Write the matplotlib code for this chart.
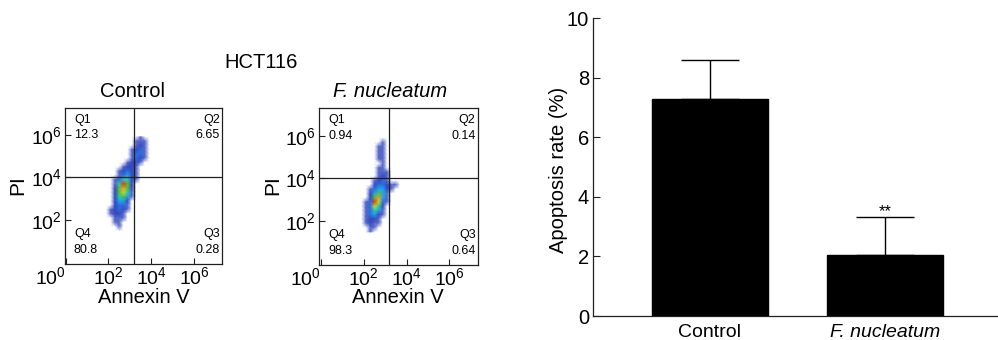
import numpy as np
import matplotlib
matplotlib.use("Agg")
import matplotlib.pyplot as plt
from matplotlib.colors import LinearSegmentedColormap, Normalize

plt.rcParams['font.family'] = ['Liberation Sans', 'DejaVu Sans']
plt.rcParams['mathtext.fontset'] = 'custom'
plt.rcParams['mathtext.rm'] = 'Liberation Sans'
plt.rcParams['mathtext.it'] = 'Liberation Sans:italic'

# ---------------- data ----------------
figure_title = "HCT116"
groups = ["Control", "F. nucleatum"]
apoptosis_mean = [7.28, 2.05]
apoptosis_err = [1.33, 1.27]
sig_marks = ["", "**"]

# quadrant gates (Annexin V, PI)
gate_annexin = 10 ** 3.2
gate_pi = 10 ** 4.0

quad_names = ["Q1", "Q2", "Q3", "Q4"]
quad_ctrl = ["12.3", "6.65", "0.28", "80.8"]
quad_fn = ["0.94", "0.14", "0.64", "98.3"]

# density grid nodes (log10 of fluorescence)
grid_x = [1.9, 2.1, 2.3, 2.5, 2.7, 2.9, 3.1, 3.3, 3.5, 3.7, 3.9]
grid_y = [5.9, 5.7, 5.5, 5.3, 5.1, 4.9, 4.7, 4.5, 4.3, 4.1, 3.9, 3.7,
          3.5, 3.3, 3.1, 2.9, 2.7, 2.5, 2.3, 2.1, 1.9, 1.7, 1.5]

density_ctrl = [
    [0, 0, 0, 0, 0, 0, 0, 0, 1, 0, 0],
    [0, 0, 0, 0, 0, 0, 0, 1, 1, 1, 0],
    [0, 0, 0, 0, 0, 0, 0, 1, 2, 1, 0],
    [0, 0, 0, 0, 0, 0, 1, 2, 3, 1, 0],
    [0, 0, 0, 0, 0, 0, 1, 3, 3, 1, 0],
    [0, 0, 0, 0, 0, 0, 1, 3, 2, 1, 0],
    [0, 0, 0, 0, 0, 1, 2, 2, 1, 0, 0],
    [0, 0, 0, 0, 1, 2, 2, 1, 0, 0, 0],
    [0, 0, 0, 1, 2, 3, 2, 1, 0, 0, 0],
    [0, 0, 0, 1, 3, 4, 2, 1, 0, 0, 0],
    [0, 0, 1, 3, 5, 5, 2, 1, 0, 0, 0],
    [0, 0, 1, 5, 9, 6, 2, 0, 0, 0, 0],
    [0, 0, 2, 6, 8, 6, 2, 0, 0, 0, 0],
    [0, 0, 2, 6, 7, 5, 1, 0, 0, 0, 0],
    [0, 0, 2, 5, 6, 4, 1, 0, 0, 0, 0],
    [0, 0, 2, 4, 4, 2, 0, 0, 0, 0, 0],
    [0, 0, 2, 3, 3, 1, 0, 0, 0, 0, 0],
    [0, 1, 2, 3, 2, 1, 0, 0, 0, 0, 0],
    [0, 1, 2, 2, 1, 0, 0, 0, 0, 0, 0],
    [0, 0, 1, 1, 1, 0, 0, 0, 0, 0, 0],
    [0, 0, 1, 1, 0, 0, 0, 0, 0, 0, 0],
    [0, 0, 0, 1, 0, 0, 0, 0, 0, 0, 0],
    [0, 0, 0, 0, 0, 0, 0, 0, 0, 0, 0],
]

density_fn = [
    [0, 0, 0, 0, 0, 0, 0, 0, 0, 0, 0],
    [0, 0, 0, 0, 0, 1, 0, 0, 0, 0, 0],
    [0, 0, 0, 0, 1, 1, 0, 0, 0, 0, 0],
    [0, 0, 0, 0, 1, 1, 0, 0, 0, 0, 0],
    [0, 0, 0, 0, 1, 1, 0, 0, 0, 0, 0],
    [0, 0, 0, 0, 1, 1, 0, 0, 0, 0, 0],
    [0, 0, 0, 0, 0, 1, 0, 0, 0, 0, 0],
    [0, 0, 0, 0, 1, 1, 0, 0, 0, 0, 0],
    [0, 0, 0, 0, 1, 1, 1, 0, 0, 0, 0],
    [0, 0, 0, 0, 1, 2, 1, 0, 0, 0, 0],
    [0, 0, 0, 1, 2, 3, 1, 0, 0, 0, 0],
    [0, 0, 0, 2, 3, 3, 2, 1, 1, 0, 0],
    [0, 0, 1, 3, 4, 4, 2, 1, 0, 0, 0],
    [0, 0, 2, 4, 6, 4, 1, 0, 0, 0, 0],
    [0, 0, 2, 6, 8, 4, 1, 0, 0, 0, 0],
    [0, 1, 3, 9, 7, 3, 1, 0, 0, 0, 0],
    [0, 1, 3, 7, 5, 2, 0, 0, 0, 0, 0],
    [0, 1, 3, 5, 4, 1, 0, 0, 0, 0, 0],
    [0, 1, 3, 4, 2, 1, 0, 0, 0, 0, 0],
    [0, 1, 2, 2, 1, 0, 0, 0, 0, 0, 0],
    [0, 1, 2, 1, 1, 0, 0, 0, 0, 0, 0],
    [0, 0, 1, 1, 0, 0, 0, 0, 0, 0, 0],
    [0, 0, 1, 0, 0, 0, 0, 0, 0, 0, 0],
]

x_ticks = [1, 1e2, 1e4, 1e6]
x_ticklabels = [r"$10^{0}$", r"$10^{2}$", r"$10^{4}$", r"$10^{6}$"]
y_ticks = [1e2, 1e4, 1e6]
y_ticklabels = [r"$10^{2}$", r"$10^{4}$", r"$10^{6}$"]

bar_yticks = [0, 2, 4, 6, 8, 10]

# ---------------- figure ----------------
W, H = 998, 340
fig = plt.figure(figsize=(W / 100, H / 100), dpi=100)

def fx(px):
    return px / W

def fy(py):
    return (H - py) / H

cmap = LinearSegmentedColormap.from_list(
    "flow",
    [(0.0, "#7080d0"), (0.06, "#5566c8"), (0.17, "#3346c0"), (0.28, "#2a6fe0"),
     (0.39, "#20a8e8"), (0.5, "#30c8b0"), (0.61, "#50c040"), (0.72, "#c8e020"),
     (0.83, "#f0a020"), (0.94, "#e83020"), (1.0, "#d02018")])
cmap.set_under("white")
norm = Normalize(vmin=0.5, vmax=9.5)

line_col = "#202020"

def flow_panel(rect, dens, quads, xlim, ylim):
    ax = fig.add_axes(rect)
    ax.set_xscale("log")
    ax.set_yscale("log")
    X = 10 ** np.array(grid_x)
    Y = 10 ** np.array(grid_y)
    ax.pcolormesh(X, Y, np.array(dens, dtype=float), shading="gouraud",
                  cmap=cmap, norm=norm, zorder=1, rasterized=True)
    ax.axvline(gate_annexin, color=line_col, lw=0.9, zorder=3)
    ax.axhline(gate_pi, color=line_col, lw=0.9, zorder=3)
    ax.set_xlim(*xlim)
    ax.set_ylim(*ylim)
    ax.set_xticks(x_ticks)
    ax.set_xticklabels(x_ticklabels)
    ax.set_yticks(y_ticks)
    ax.set_yticklabels(y_ticklabels)
    ax.minorticks_off()
    ax.tick_params(direction="in", length=4, width=0.8, labelsize=14,
                   colors=line_col, labelcolor="black")
    ax.tick_params(axis="x", pad=1.5)
    ax.tick_params(axis="y", pad=2)
    ax.get_xticklabels()[0].set_horizontalalignment("right")
    for s in ax.spines.values():
        s.set_linewidth(0.9)
        s.set_color(line_col)
    fs = 9
    ax.text(0.057, 0.905, quad_names[0], transform=ax.transAxes, fontsize=fs, va="baseline", ha="left")
    ax.text(0.057, 0.805, quads[0], transform=ax.transAxes, fontsize=fs, va="baseline", ha="left")
    ax.text(0.985, 0.905, quad_names[1], transform=ax.transAxes, fontsize=fs, va="baseline", ha="right")
    ax.text(0.985, 0.805, quads[1], transform=ax.transAxes, fontsize=fs, va="baseline", ha="right")
    ax.text(0.985, 0.173, quad_names[2], transform=ax.transAxes, fontsize=fs, va="baseline", ha="right")
    ax.text(0.985, 0.07, quads[2], transform=ax.transAxes, fontsize=fs, va="baseline", ha="right")
    ax.text(0.057, 0.173, quad_names[3], transform=ax.transAxes, fontsize=fs, va="baseline", ha="left")
    ax.text(0.057, 0.07, quads[3], transform=ax.transAxes, fontsize=fs, va="baseline", ha="left")
    return ax

ax1 = flow_panel([fx(65), fy(264), fx(157), 156 / H], density_ctrl, quad_ctrl,
                 (10 ** -0.03, 10 ** 7.3), (10 ** -0.05, 10 ** 7.25))
ax2 = flow_panel([fx(319), fy(265), fx(159), 157 / H], density_fn, quad_fn,
                 (10 ** -0.1, 10 ** 7.35), (10 ** -0.05, 10 ** 7.3))

fs_lab = 14.5
fig.text(fx(261.5), fy(68), figure_title, ha="center", va="baseline", fontsize=fs_lab)
fig.text(fx(132.7), fy(97.3), groups[0], ha="center", va="baseline", fontsize=fs_lab)
fig.text(fx(389.7), fy(97.3), groups[1], ha="center", va="baseline", fontsize=fs_lab, style="italic")
for xc in (17.5, 272.5):
    fig.text(fx(xc), fy(185), "PI", ha="center", va="center", rotation=90, fontsize=15)
fig.text(fx(144), fy(303), "Annexin V", ha="center", va="baseline", fontsize=fs_lab)
fig.text(fx(397.5), fy(303), "Annexin V", ha="center", va="baseline", fontsize=fs_lab)

# ---------------- bar chart ----------------
axb = fig.add_axes([fx(593.3), fy(316), 1 - fx(593.3), (316 - 18.3) / H])
xpos = np.arange(len(groups))
axb.bar(xpos, apoptosis_mean, width=0.66, color="black", edgecolor="black", zorder=2)
axb.errorbar(xpos, apoptosis_mean, yerr=[np.zeros(len(groups)), apoptosis_err],
             fmt="none", ecolor="black", elinewidth=1.0, capsize=21, capthick=1.0, zorder=3)
for i, m in enumerate(sig_marks):
    if m:
        axb.text(xpos[i], apoptosis_mean[i] + apoptosis_err[i] + 0.02, m,
                 ha="center", va="baseline", fontsize=12)
axb.set_xlim(-0.664, 1.644)
axb.set_ylim(0, 10)
axb.set_yticks(bar_yticks)
axb.set_xticks(xpos)
axb.set_xticklabels(groups)
axb.get_xticklabels()[1].set_style("italic")
axb.tick_params(axis="y", direction="in", length=5, width=0.8, labelsize=14.5,
                pad=3, colors=line_col, labelcolor="black")
axb.tick_params(axis="x", length=0, labelsize=14, pad=5.5)
axb.spines["top"].set_visible(False)
axb.spines["right"].set_visible(False)
for s in ("left", "bottom"):
    axb.spines[s].set_linewidth(0.9)
    axb.spines[s].set_color(line_col)
fig.text(fx(558), fy(170), "Apoptosis rate (%)", rotation=90, ha="center", va="center",
         fontsize=14.5)

fig.savefig("out.png", dpi=100)
